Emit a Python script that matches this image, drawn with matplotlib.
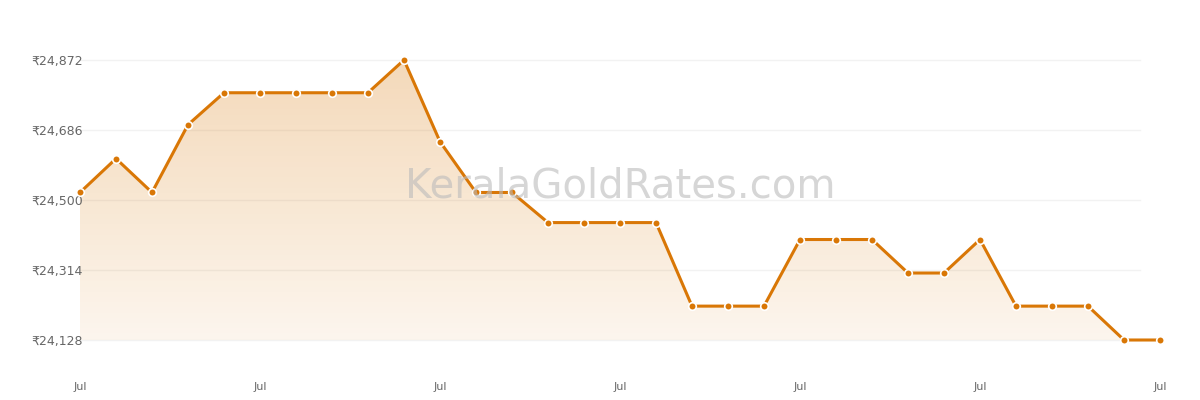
import matplotlib
matplotlib.use("Agg")
import matplotlib.pyplot as plt
import numpy as np
from matplotlib.colors import LinearSegmentedColormap

prices = [24520, 24610, 24520, 24700, 24785, 24785, 24785, 24785, 24785, 24872,
          24655, 24520, 24520, 24440, 24440, 24440, 24440, 24218, 24218, 24218,
          24395, 24395, 24395, 24306, 24306, 24395, 24218, 24218, 24218, 24128, 24128]
tick_labels = ["Jul"] * 7
ytick_vals = [24128, 24314, 24500, 24686, 24872]

x = np.arange(len(prices))
fig = plt.figure(figsize=(12, 4), dpi=100)
ax = fig.add_axes([80/1200, 60/400, 1080/1200, 280/400])
ymin, ymax = 24128, 24872
ax.set_xlim(0, len(prices) - 1)
ax.set_ylim(ymin, ymax)

color = "#d97706"
cmap = LinearSegmentedColormap.from_list("g", [(0.85, 0.47, 0.02, 0.07), (0.85, 0.47, 0.02, 0.28)])
grad = np.linspace(0, 1, 256).reshape(-1, 1)
im = ax.imshow(grad, extent=[0, len(prices) - 1, ymin, ymax], origin="lower",
               aspect="auto", cmap=cmap, zorder=1)
poly = ax.fill_between(x, prices, ymin, color="none")
path = poly.get_paths()[0]
im.set_clip_path(path, transform=ax.transData)

ax.plot(x, prices, color=color, lw=2.2, zorder=3, clip_on=False)
ax.scatter(x, prices, s=30, color=color, edgecolor="white", linewidth=1.2, zorder=4, clip_on=False)

for yv in ytick_vals:
    ax.plot([0, 1060/36], [yv, yv], color="#f2f2f2", lw=1, zorder=0, clip_on=False)
ax.set_yticks(ytick_vals)
ax.set_yticklabels([f"₹{v:,}" for v in ytick_vals], fontsize=9, color="#666666")
ax.set_xticks(x[::5])
ax.set_xticklabels(tick_labels, fontsize=8, color="#666666")
ax.tick_params(length=0, axis="y", pad=-2)
ax.tick_params(length=0, axis="x", pad=30)
for s in ax.spines.values():
    s.set_visible(False)
ax.patch.set_alpha(0)

fig.text(620/1200, 1 - 187/400, "KeralaGoldRates.com", fontsize=29, color="#bbbbbb",
         alpha=0.6, ha="center", va="center")
fig.savefig("out.png")
